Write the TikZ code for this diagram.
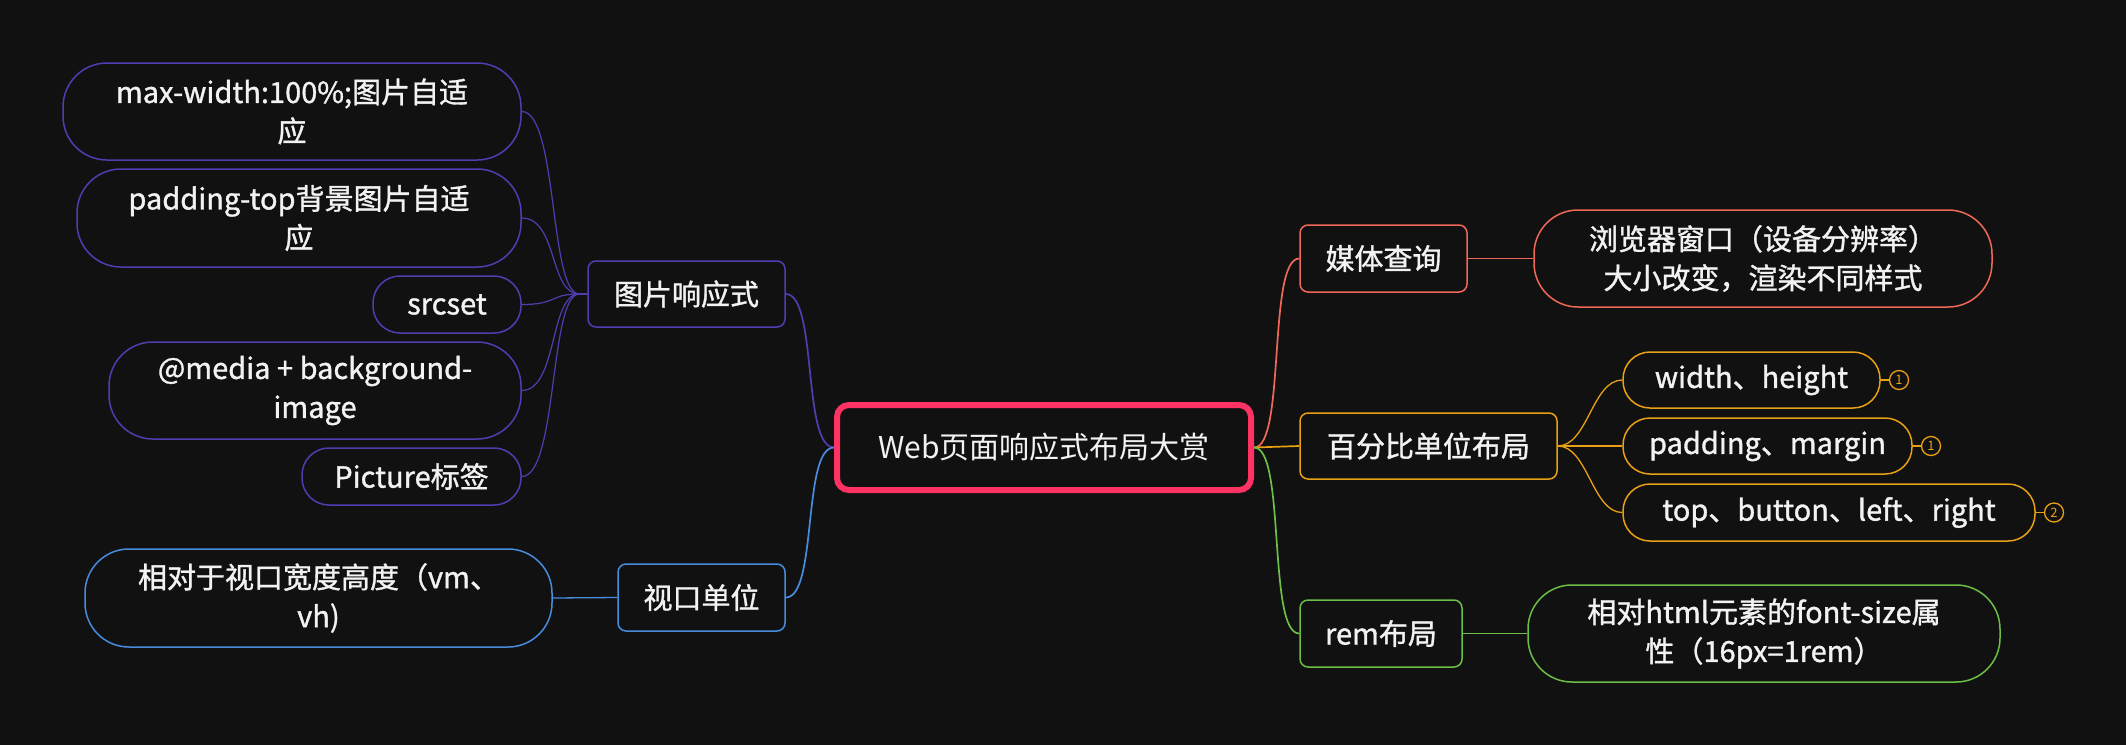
\documentclass[tikz,border=0pt]{standalone}
\usepackage{fontspec}
\newfontfamily\cjk{Noto Sans CJK SC}
\newfontfamily\cjkb[FakeBold=1.2]{Noto Sans CJK SC}
\definecolor{bg}{RGB}{17,17,17}
\definecolor{purp}{RGB}{82,60,178}
\definecolor{blu}{RGB}{72,140,222}
\definecolor{redc}{RGB}{240,104,88}
\definecolor{orng}{RGB}{232,160,20}
\definecolor{grn}{RGB}{108,190,70}
\definecolor{pink}{RGB}{255,50,100}
\definecolor{txt}{RGB}{242,242,242}
\tikzset{
  base/.style={draw, fill=bg, text=txt, font=\cjkb\fontsize{29}{39}\selectfont, align=center, inner sep=0pt, line width=1.5pt},
  pill/.style={base, rounded corners=44pt},
  pillsm/.style={base, rounded corners=27pt},
  tag/.style={base, rounded corners=8pt},
  conn/.style={line width=1.7pt},
  num/.style={circle, draw=orng, line width=1.3pt, minimum size=19pt, inner sep=0pt, text=orng, font=\cjk\fontsize{13}{13}\selectfont}
}
\begin{document}
\begin{tikzpicture}[x=1pt,y=-1pt]
\fill[bg] (0,0) rectangle (2126,745);
\useasboundingbox (0,0) rectangle (2126,745);

% nodes
\node[base, draw=pink, line width=6pt, rounded corners=12pt, minimum width=414pt, minimum height=85pt, font=\cjk\fontsize{30}{36}\selectfont] (c) at (1044,447.5) {Web页面响应式布局大赏};

\node[tag, draw=purp, minimum width=197pt, minimum height=66pt] (p) at (686.5,294) {图片响应式};
\node[pill, draw=purp, minimum width=458pt, minimum height=97pt] (p1) at (292,111.5) {max-width:100\%;图片自适\\应};
\node[pill, draw=purp, minimum width=444pt, minimum height=98pt] (p2) at (299,218) {padding-top背景图片自适\\应};
\node[pillsm, draw=purp, minimum width=148pt, minimum height=57pt] (p3) at (447,304.5) {srcset};
\node[pill, draw=purp, minimum width=412pt, minimum height=97pt] (p4) at (315,390.5) {@media + background-\\image};
\node[pillsm, draw=purp, minimum width=219pt, minimum height=57pt] (p5) at (411.5,476.5) {Picture标签};

\node[tag, draw=blu, minimum width=167pt, minimum height=67pt] (v) at (701.5,597.5) {视口单位};
\node[pill, draw=blu, minimum width=467pt, minimum height=98pt] (v1) at (318.5,598) {相对于视口宽度高度（vm、\\vh)};

\node[tag, draw=redc, minimum width=167pt, minimum height=67pt] (m) at (1383.5,258.5) {媒体查询};
\node[pill, draw=redc, minimum width=458pt, minimum height=97pt] (m1) at (1763,258.5) {浏览器窗口（设备分辨率）\\大小改变，渲染不同样式};

\node[tag, draw=orng, minimum width=257pt, minimum height=66pt] (b) at (1428.5,446) {百分比单位布局};
\node[pillsm, draw=orng, minimum width=257pt, minimum height=56pt] (b1) at (1751.5,380) {width、height};
\node[pillsm, draw=orng, minimum width=289pt, minimum height=56pt] (b2) at (1767.5,446) {padding、margin};
\node[pillsm, draw=orng, minimum width=412pt, minimum height=57pt] (b3) at (1829,512.5) {top、button、left、right};
\node[num] (n1) at (1899,380) {1};
\node[num] (n2) at (1931,446) {1};
\node[num] (n3) at (2054,512.5) {2};

\node[tag, draw=grn, minimum width=162pt, minimum height=67pt] (r) at (1381,633.5) {rem布局};
\node[pill, draw=grn, minimum width=472pt, minimum height=97pt] (r1) at (1764,633.5) {相对html元素的font-size属\\性（16px=1rem）};

% connectors
\draw[conn, purp] (p.east) .. controls +(32,0) and +(-32,0) .. (c.west);
\draw[conn, blu] (v.east) .. controls +(32,0) and +(-32,0) .. (c.west);
\draw[conn, redc] (c.east) .. controls +(32,0) and +(-32,0) .. (m.west);
\draw[conn, orng] (c.east) -- (b.west);
\draw[conn, grn] (c.east) .. controls +(32,0) and +(-32,0) .. (r.west);

\foreach \k in {p1,p2,p3,p4,p5}{
  \draw[line width=1.2pt, purp] (\k.east) .. controls +(36,0) and +(-30,0) .. ([xshift=-8pt]p.west) -- (p.west);
}
\draw[line width=1.3pt, blu] (v1.east) -- (v.west);
\draw[line width=1.3pt, redc] (m.east) -- (m1.west);
\draw[line width=1.3pt, grn] (r.east) -- (r1.west);
\foreach \k in {b1,b2,b3}{
  \draw[line width=1.3pt, orng] (b.east) .. controls +(30,0) and +(-30,0) .. (\k.west);
}
\draw[line width=1.3pt, orng] (b1.east) -- (n1.west);
\draw[line width=1.3pt, orng] (b2.east) -- (n2.west);
\draw[line width=1.3pt, orng] (b3.east) -- (n3.west);
\end{tikzpicture}
\end{document}
